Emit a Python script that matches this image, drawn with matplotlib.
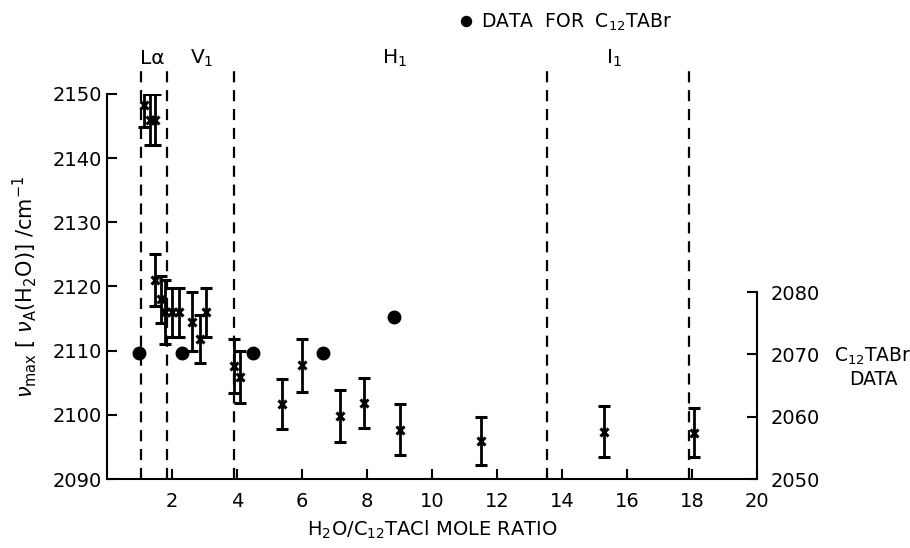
import numpy as np
import matplotlib.pyplot as plt

# crosses with error bars: C12TACl data (left axis)
x_tacl = [1.14, 1.33, 1.48, 1.48, 1.66, 1.79, 2.00, 2.22, 2.62, 2.85, 3.06,
          3.92, 4.10, 5.37, 6.00, 7.17, 7.90, 9.00, 11.50, 15.28, 18.05]
y_tacl = [2148.3, 2146.0, 2146.0, 2121.0, 2118.0, 2116.0, 2116.0, 2116.0, 2114.5, 2111.8, 2116.0,
          2107.6, 2105.9, 2101.7, 2107.7, 2099.8, 2101.8, 2097.7, 2095.9, 2097.4, 2097.2]
err_tacl = [3.4, 4.0, 4.0, 4.0, 3.7, 5.0, 3.8, 3.8, 4.6, 3.7, 3.8,
            4.2, 4.1, 3.9, 4.1, 4.1, 3.9, 4.0, 3.7, 4.0, 3.8]

# filled circles: C12TABr data (right axis)
x_tabr = [0.99, 2.31, 4.48, 6.64, 8.83]
y_tabr = [2070.2, 2070.2, 2070.2, 2070.2, 2076.0]

# phase boundaries and labels
bounds = [1.05, 1.85, 3.92, 13.55, 17.9]
phase_x = [1.39, 2.93, 8.83, 15.6]
phase_names = ['L\u03b1', r'V$_1$', r'H$_1$', r'I$_1$']

plt.rcParams['font.family'] = 'DejaVu Sans'
plt.rcParams['mathtext.fontset'] = 'dejavusans'

fig = plt.figure(figsize=(9.1, 5.48), dpi=100)
ax = fig.add_axes([0.1176, 0.1259, 0.7143, 0.7026])

ax.errorbar(x_tacl, y_tacl, yerr=err_tacl, fmt='x', color='black', ms=6, mew=2.2,
            elinewidth=2, capsize=4, capthick=2)

ax.vlines(bounds, 2090, 2154.5, colors='black', linestyles=(0, (5, 3.5)), lw=1.6, clip_on=False)
for px, name in zip(phase_x, phase_names):
    ax.text(px, 2155.6, name, ha='center', va='center', fontsize=14.5)

ax.set_xlim(0, 20)
ax.set_ylim(2090, 2150)
ax.set_xticks(np.arange(2, 21, 2))
ax.set_yticks(np.arange(2090, 2151, 10))
ax.spines['top'].set_visible(False)
ax.spines['right'].set_visible(False)
for s in ['left', 'bottom']:
    ax.spines[s].set_linewidth(1.5)
ax.tick_params(direction='in', length=7, width=1.5, labelsize=14)
ax.tick_params(axis='x', pad=9)
ax.set_xlabel(r'H$_2$O/C$_{12}$TACl MOLE RATIO', fontsize=14, labelpad=6)
ax.set_ylabel(r'$\nu_{\rm max}$ [ $\nu_{\rm A}$(H$_2$O)] /cm$^{-1}$', fontsize=15, labelpad=10)

ax2 = ax.twinx()
ax2.plot(x_tabr, y_tabr, 'o', color='black', ms=9, label=r'DATA  FOR  C$_{12}$TABr')
ax2.set_ylim(2050, 2111.8)
ax2.set_yticks([2050, 2060, 2070, 2080])
for s in ['top', 'left', 'bottom']:
    ax2.spines[s].set_visible(False)
ax2.spines['right'].set_linewidth(1.5)
ax2.spines['right'].set_bounds(2050, 2080)
ax2.tick_params(direction='in', length=7, width=1.5, labelsize=14, pad=10)

fig.text(873 / 910, 1 - 367 / 548, 'C$_{12}$TABr\nDATA', ha='center', va='center',
         fontsize=13.5, multialignment='center')

fig.legend(loc='center', bbox_to_anchor=(565 / 910, 1 - 22 / 548), frameon=False,
           fontsize=13.5, handletextpad=0.3, handlelength=1.0, markerscale=0.8)

fig.savefig('out.png', dpi=100)
